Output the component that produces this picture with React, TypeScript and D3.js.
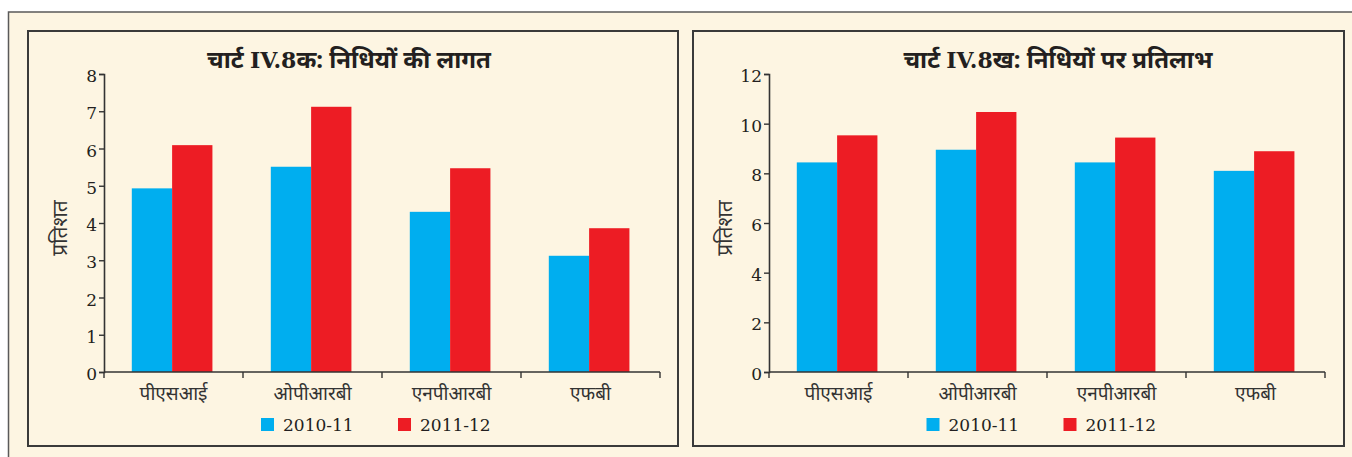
import React, { useEffect, useRef } from "react";
import * as d3 from "d3";

// categories and series
const categories = ["पीएसआई", "ओपीआरबी", "एनपीआरबी", "एफबी"];
const seriesNames = ["2010-11", "2011-12"];
const seriesColors = ["#00aeef", "#ed1c24"];

// chart IV.8a : cost of funds (per cent)
const costOfFunds2010 = [4.93, 5.51, 4.3, 3.12];
const costOfFunds2011 = [6.09, 7.12, 5.47, 3.86];
const costTicks = [0, 1, 2, 3, 4, 5, 6, 7, 8];

// chart IV.8b : return on funds (per cent)
const returnOnFunds2010 = [8.44, 8.95, 8.44, 8.1];
const returnOnFunds2011 = [9.53, 10.47, 9.44, 8.89];
const returnTicks = [0, 2, 4, 6, 8, 10, 12];

const yLabel = "प्रतिशत";
// title pieces: [devanagari, roman, devanagari]
const titleLeft = ["चार्ट ", "IV.8", "क: निधियों की लागत"];
const titleRight = ["चार्ट ", "IV.8", "ख: निधियों पर प्रतिलाभ"];

const W = 1352;
const H = 457;
const BG = "#fdf5e2";
const INK = "#231f20";
const SERIF = "'DejaVu Serif', serif";
const DEVA = "'Noto Sans', sans-serif";

type PanelProps = {
  svg: d3.Selection<SVGSVGElement, unknown, null, undefined>;
  left: number;
  right: number;
  plotLeft: number;
  plotRight: number;
  titleX: number;
  title: string[];
  values: number[][];
  ticks: number[];
};

function drawPanel({ svg, left, right, plotLeft, plotRight, titleX, title, values, ticks }: PanelProps) {
  const top = 74;
  const bottom = 372;

  // panel frame
  svg
    .append("rect")
    .attr("x", left)
    .attr("y", 31)
    .attr("width", right - left)
    .attr("height", 446 - 31)
    .attr("fill", BG)
    .attr("stroke", "#3a3a3a")
    .attr("stroke-width", 2);

  const g = svg.append("g");

  const x0 = d3.scaleBand().domain(categories).range([plotLeft, plotRight]);
  const bw = x0.bandwidth();
  const x1 = d3
    .scaleBand()
    .domain(seriesNames)
    .range([bw * 0.2, bw * 0.78]);
  const y = d3
    .scaleLinear()
    .domain([0, ticks[ticks.length - 1]])
    .range([bottom, top]);

  // bars
  categories.forEach((c, ci) => {
    seriesNames.forEach((s, si) => {
      const v = values[si][ci];
      g.append("rect")
        .attr("x", (x0(c) as number) + (x1(s) as number))
        .attr("y", y(v))
        .attr("width", x1.bandwidth())
        .attr("height", y(0) - y(v))
        .attr("fill", seriesColors[si]);
    });
  });

  // y axis
  const yAxis = g
    .append("g")
    .attr("transform", `translate(${plotLeft},0)`)
    .call(d3.axisLeft(y).tickValues(ticks).tickSize(5).tickPadding(2).tickFormat(d3.format("d")));
  yAxis.select(".domain").attr("stroke", "#333").attr("stroke-width", 1.6);
  yAxis.selectAll(".tick line").attr("stroke", "#333").attr("stroke-width", 1.4);
  yAxis
    .selectAll(".tick text")
    .attr("fill", INK)
    .style("font-family", SERIF)
    .style("font-size", "17px")
    .attr("dy", "0.45em");

  // x axis with group separators
  const xAxis = g
    .append("g")
    .attr("transform", `translate(0,${bottom})`)
    .call(d3.axisBottom(x0).tickSize(0).tickPadding(15));
  xAxis.select(".domain").remove();
  g.append("line")
    .attr("x1", plotLeft)
    .attr("x2", plotRight)
    .attr("y1", bottom)
    .attr("y2", bottom)
    .attr("stroke", "#333")
    .attr("stroke-width", 1.6);
  const seps = [...categories.map((c) => x0(c) as number), plotRight];
  seps.forEach((sx) => {
    g.append("line")
      .attr("x1", sx)
      .attr("x2", sx)
      .attr("y1", bottom)
      .attr("y2", bottom + 6)
      .attr("stroke", "#333")
      .attr("stroke-width", 1.4);
  });
  xAxis
    .selectAll(".tick text")
    .attr("fill", "#333")
    .style("font-family", DEVA)
    .style("font-size", "19px");

  // y label
  g.append("text")
    .attr("transform", `translate(${plotLeft - 37},${(top + bottom) / 2 + 5}) rotate(-90)`)
    .attr("text-anchor", "middle")
    .attr("fill", "#333")
    .style("font-family", DEVA)
    .style("font-size", "21px")
    .text(yLabel);

  // title
  const t = g
    .append("text")
    .attr("x", titleX)
    .attr("y", 68)
    .attr("text-anchor", "middle")
    .attr("fill", INK)
    .style("font-weight", "bold")
    .style("font-size", "24px");
  title.forEach((part, i) => {
    t.append("tspan")
      .style("font-family", i === 1 ? SERIF : DEVA)
      .style("font-size", i === 1 ? "22px" : "24px")
      .text(part);
  });

  // legend
  const mid = (left + right) / 2;
  const legend = g.append("g").attr("transform", `translate(${mid - 92},0)`);
  seriesNames.forEach((s, si) => {
    const lx = si * 137;
    legend
      .append("rect")
      .attr("x", lx)
      .attr("y", 418)
      .attr("width", 13)
      .attr("height", 13)
      .attr("fill", seriesColors[si]);
    legend
      .append("text")
      .attr("x", lx + 22)
      .attr("y", 431)
      .attr("fill", INK)
      .style("font-family", SERIF)
      .style("font-size", "17px")
      .text(s);
  });
}

export default function App() {
  const svgRef = useRef<SVGSVGElement>(null);

  useEffect(() => {
    const svg = d3.select(svgRef.current as SVGSVGElement);
    svg.selectAll("*").remove();

    // outer page background and border
    svg.append("rect").attr("width", W).attr("height", H).attr("fill", "#ffffff");
    svg
      .append("rect")
      .attr("x", 8.5)
      .attr("y", 12)
      .attr("width", W)
      .attr("height", H)
      .attr("fill", BG)
      .attr("stroke", "#5a5a5a")
      .attr("stroke-width", 1.5);

    drawPanel({
      svg,
      left: 28,
      right: 678,
      plotLeft: 104,
      plotRight: 660,
      titleX: 349,
      title: titleLeft,
      values: [costOfFunds2010, costOfFunds2011],
      ticks: costTicks,
    });

    drawPanel({
      svg,
      left: 693,
      right: 1344,
      plotLeft: 769,
      plotRight: 1325,
      titleX: 1058,
      title: titleRight,
      values: [returnOnFunds2010, returnOnFunds2011],
      ticks: returnTicks,
    });
  }, []);

  return (
    <svg
      ref={svgRef}
      width={W}
      height={H}
      style={{ position: "absolute", left: 0, top: 0, display: "block" }}
    />
  );
}
